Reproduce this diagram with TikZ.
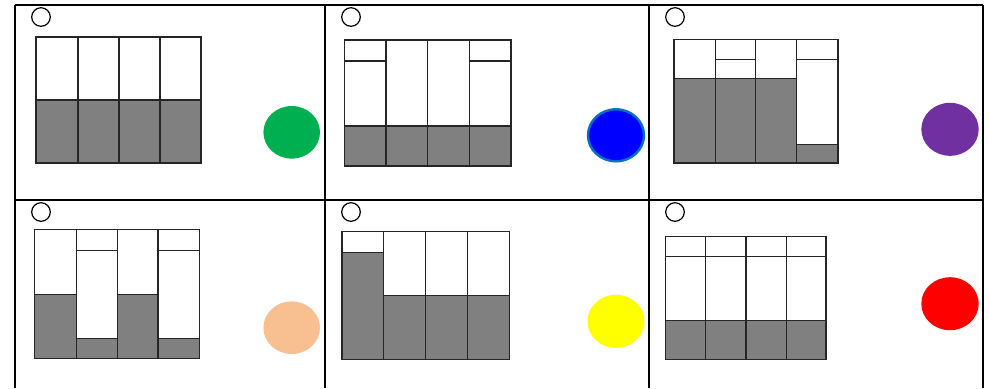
\documentclass[tikz,border=0pt]{standalone}
\begin{document}
\begin{tikzpicture}[x=0.5pt,y=-0.5pt,
  frame/.style={line width=1pt,black},
  barline/.style={line width=0.6pt,black!85},
  shade/.style={fill=black!50},
  radio/.style={line width=0.6pt,black},
  dot/.style={draw=none}]
\useasboundingbox[fill=white] (0,0) rectangle (989,388);
% table frame
\draw[frame] (15,5) -- (983,5);
\draw[frame] (15,200) -- (983,200);
\draw[frame] (15,5) -- (15,388);
\draw[frame] (325,5) -- (325,388);
\draw[frame] (649,5) -- (649,388);
\draw[frame] (983,5) -- (983,388);
% radio circles
\foreach \cx/\cy in {41/17,351/17,675/17,41/212,351/212,675/212}
  \draw[radio] (\cx,\cy) circle[radius=9.3];
% ---------- cell 1 ----------
\fill[shade] (36,100) rectangle (201,163);
\draw[barline] (36,37) rectangle (201,163);
\foreach \x in {78,119,160} \draw[barline] (\x,37) -- (\x,163);
\draw[barline] (36,100) -- (201,100);
\fill[dot,fill={rgb,255:red,0;green,176;blue,80}] (291.7,132.3) ellipse[x radius=28.3,y radius=26.3];
% ---------- cell 2 ----------
\fill[shade] (344.3,126) rectangle (511,166);
\draw[barline] (344.3,40) rectangle (511,166);
\foreach \x in {386,427.7,469.3} \draw[barline] (\x,40) -- (\x,166);
\draw[barline] (344.3,126) -- (511,126);
\draw[barline] (344.3,61) -- (386,61);
\draw[barline] (469.3,61) -- (511,61);
\filldraw[fill={rgb,255:red,0;green,0;blue,255},draw={rgb,255:red,0;green,112;blue,192},line width=1.2pt] (616,135.3) ellipse[x radius=28,y radius=26];
% ---------- cell 3 ----------
\fill[shade] (674,78.7) rectangle (796.3,163);
\fill[shade] (796.3,144.3) rectangle (838,163);
\draw[barline] (674,39.3) rectangle (838,163);
\foreach \x in {715.7,755.7,796.3} \draw[barline] (\x,39.3) -- (\x,163);
\draw[barline] (674,78.7) -- (796.3,78.7);
\draw[barline] (715.7,59.3) -- (755.7,59.3);
\draw[barline] (796.3,59.7) -- (838,59.7);
\draw[barline] (796.3,144.3) -- (838,144.3);
\fill[dot,fill={rgb,255:red,112;green,48;blue,160}] (950,129.3) ellipse[x radius=28.7,y radius=26.5];
% ---------- cell 4 ----------
\fill[shade] (34.7,294.3) rectangle (76.3,358.3);
\fill[shade] (76.3,338.3) rectangle (117.7,358.3);
\fill[shade] (117.7,294.3) rectangle (158,358.3);
\fill[shade] (158,338.3) rectangle (199.7,358.3);
\draw[barline] (34.7,229.7) rectangle (199.7,358.3);
\foreach \x in {76.3,117.7,158} \draw[barline] (\x,229.7) -- (\x,358.3);
\draw[barline] (34.7,294.3) -- (76.3,294.3);
\draw[barline] (117.7,294.3) -- (158,294.3);
\draw[barline] (76.3,338.3) -- (117.7,338.3);
\draw[barline] (158,338.3) -- (199.7,338.3);
\draw[barline] (76.3,250.7) -- (117.7,250.7);
\draw[barline] (158,250.7) -- (199.7,250.7);
\fill[dot,fill={rgb,255:red,248;green,192;blue,144}] (291.7,327.7) ellipse[x radius=28.3,y radius=26.3];
% ---------- cell 5 ----------
\fill[shade] (342,252.3) rectangle (383.7,359.3);
\fill[shade] (383.7,295.3) rectangle (509.3,359.3);
\draw[barline] (342,231.7) rectangle (509.3,359.3);
\foreach \x in {383.7,425.3,467.7} \draw[barline] (\x,231.7) -- (\x,359.3);
\draw[barline] (342,252.3) -- (383.7,252.3);
\draw[barline] (383.7,295.3) -- (509.3,295.3);
\fill[dot,fill={rgb,255:red,255;green,255;blue,0}] (616,321.3) ellipse[x radius=28.5,y radius=26.5];
% ---------- cell 6 ----------
\fill[shade] (665.3,320.7) rectangle (826,359.7);
\draw[barline] (665.3,236.7) rectangle (826,359.7);
\foreach \x in {705.3,746,786.3} \draw[barline] (\x,236.7) -- (\x,359.7);
\draw[barline] (665.3,256.3) -- (826,256.3);
\draw[barline] (665.3,320.7) -- (826,320.7);
\fill[dot,fill={rgb,255:red,255;green,0;blue,0}] (950,303.7) ellipse[x radius=28.7,y radius=26.5];
\end{tikzpicture}
\end{document}
